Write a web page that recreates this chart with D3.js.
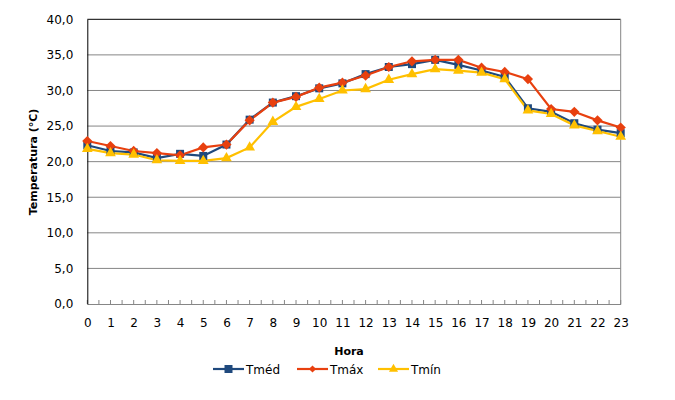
<!DOCTYPE html>
<html>
<head>
<meta charset="utf-8">
<script src="https://cdn.jsdelivr.net/npm/d3@7"></script>
<style>
  body { margin: 0; background: #fff; }
  text { font-family: "DejaVu Sans", Verdana, sans-serif; fill: #000; }
</style>
</head>
<body>
<svg id="chart" width="675" height="400"></svg>
<script>
const hours = d3.range(0, 24);
const tMed = [22.3, 21.5, 21.3, 20.5, 21.1, 20.8, 22.4, 25.9, 28.3, 29.2, 30.3, 31.0, 32.3, 33.3, 33.7, 34.3, 33.6, 32.8, 31.9, 27.5, 27.0, 25.4, 24.5, 24.0];
const tMax = [22.9, 22.2, 21.5, 21.2, 20.9, 22.0, 22.4, 25.8, 28.3, 29.1, 30.4, 31.1, 32.1, 33.3, 34.1, 34.3, 34.3, 33.2, 32.6, 31.6, 27.4, 27.0, 25.8, 24.8];
const tMin = [21.8, 21.2, 21.0, 20.2, 20.1, 20.1, 20.5, 22.0, 25.6, 27.7, 28.8, 30.0, 30.2, 31.5, 32.3, 33.0, 32.8, 32.5, 31.6, 27.2, 26.7, 25.1, 24.3, 23.5];
const yTicks = [0, 5, 10, 15, 20, 25, 30, 35, 40];

const series = [
    { name: "Tméd", values: tMed, color: "#1F497D", symbol: d3.symbolSquare, size: 64, rot: 0, legendSize: 64 },
    { name: "Tmáx", values: tMax, color: "#E8400F", symbol: d3.symbolSquare, size: 52, rot: 45, legendSize: 26 },
    { name: "Tmín", values: tMin, color: "#FFC000", symbol: d3.symbolTriangle, size: 50, rot: 0, legendSize: 36 }
];

const margin = { top: 19.3, right: 54.3, bottom: 96, left: 87.3 };
const width = 675 - margin.left - margin.right;
const height = 400 - margin.top - margin.bottom;

const svg = d3.select("#chart")
    .append("g")
    .attr("transform", `translate(${margin.left},${margin.top})`);

const x = d3.scaleLinear().domain([0, 23]).range([0, width]);
const y = d3.scaleLinear().domain([0, 40]).range([height, 0]);
const fmt = d => d3.format(".1f")(d).replace(".", ",");

// gridlines
svg.append("g")
    .selectAll("line")
    .data(yTicks.filter(d => d > 0 && d < 40))
    .enter().append("line")
    .attr("x1", 0).attr("x2", width)
    .attr("y1", d => y(d)).attr("y2", d => y(d))
    .attr("stroke", "#868686").attr("stroke-width", 1);

// frame: top black, right grey
svg.append("line").attr("x1", 0).attr("x2", width).attr("y1", 0).attr("y2", 0)
    .attr("stroke", "#000").attr("stroke-width", 1);
svg.append("line").attr("x1", width).attr("x2", width).attr("y1", 0).attr("y2", height)
    .attr("stroke", "#868686").attr("stroke-width", 1);

// x axis
const xAxis = svg.append("g")
    .attr("transform", `translate(0,${height})`)
    .call(d3.axisBottom(x).tickValues(hours).tickSize(0).tickPadding(14).tickFormat(d3.format("d")));
xAxis.select(".domain").attr("stroke", "#868686");
xAxis.selectAll("text").style("font-size", "12px").style("font-family", "DejaVu Sans, Verdana, sans-serif");

svg.append("g")
    .selectAll("line")
    .data(d3.range(0, 23.01, 0.5))
    .enter().append("line")
    .attr("x1", d => x(d)).attr("x2", d => x(d))
    .attr("y1", height).attr("y2", height - 4)
    .attr("stroke", "#868686");

// y axis
const yAxis = svg.append("g")
    .call(d3.axisLeft(y).tickValues(yTicks).tickSize(0).tickPadding(14).tickFormat(fmt));
yAxis.select(".domain").attr("stroke", "#000");
yAxis.selectAll("text").style("font-size", "12px").style("font-family", "DejaVu Sans, Verdana, sans-serif");

// lines and markers
const line = d3.line().x((d, i) => x(hours[i])).y(d => y(d));
series.forEach(s => {
    svg.append("path")
        .datum(s.values)
        .attr("fill", "none")
        .attr("stroke", s.color)
        .attr("stroke-width", 2.2)
        .attr("d", line);
});
series.forEach(s => {
    svg.append("g")
        .selectAll("path")
        .data(s.values)
        .enter().append("path")
        .attr("transform", (d, i) => `translate(${x(hours[i])},${y(d)}) rotate(${s.rot})`)
        .attr("d", d3.symbol().type(s.symbol).size(s.size))
        .attr("fill", s.color);
});

// axis titles
svg.append("text")
    .attr("x", 349 - margin.left)
    .attr("y", 355 - margin.top)
    .attr("text-anchor", "middle")
    .style("font-size", "11px")
    .style("font-weight", "bold")
    .text("Hora");

svg.append("text")
    .attr("transform", `translate(${37 - margin.left},${162 - margin.top}) rotate(-90)`)
    .attr("text-anchor", "middle")
    .style("font-size", "11px")
    .style("font-weight", "bold")
    .text("Temperatura (°C)");

// legend
const legendX = [213, 297, 378];
const legend = d3.select("#chart").append("g");
series.forEach((s, i) => {
    const g = legend.append("g").attr("transform", `translate(${legendX[i]},369)`);
    g.append("line").attr("x1", 0).attr("x2", 31).attr("y1", 0).attr("y2", 0)
        .attr("stroke", s.color).attr("stroke-width", 2.2);
    g.append("path").attr("transform", `translate(15.5,0) rotate(${s.rot})`)
        .attr("d", d3.symbol().type(s.symbol).size(s.legendSize))
        .attr("fill", s.color);
    g.append("text").attr("x", 33).attr("y", 4.5).style("font-size", "12px").text(s.name);
});
</script>
</body>
</html>
